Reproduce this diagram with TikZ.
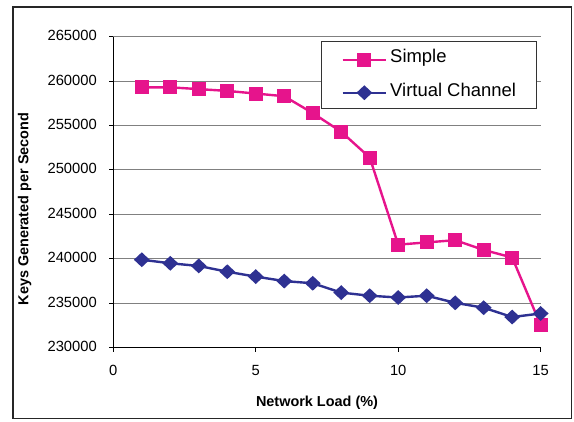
\documentclass[tikz,border=0pt]{standalone}
\usepackage{fontspec}
\setmainfont{Liberation Sans}
\usetikzlibrary{shapes.geometric,calc}
\definecolor{simplepink}{RGB}{230,20,140}
\definecolor{vcblue}{RGB}{46,49,146}
\definecolor{gridgray}{RGB}{128,128,128}

\begin{document}
\begin{tikzpicture}[x=1bp,y=1bp,
  ticklbl/.style={font=\fontsize{14.8}{16}\selectfont, inner sep=0pt},
  axtitle/.style={font=\fontsize{14.5}{16}\selectfont\bfseries, inner sep=0pt},
  legtext/.style={font=\fontsize{18.5}{20}\selectfont, inner sep=0pt},
  sqmark/.style={rectangle, fill=simplepink, draw=none, minimum size=14bp, inner sep=0pt},
  dmmark/.style={diamond, fill=vcblue, draw=none, minimum width=16bp, minimum height=15bp, inner sep=0pt},
  simpleline/.style={draw=simplepink, line width=2.4bp, line join=round},
  vcline/.style={draw=vcblue, line width=2.4bp, line join=round},
  gridline/.style={draw=gridgray, line width=1bp},
  axisline/.style={draw=black, line width=1bp}
]
\useasboundingbox (0,0) rectangle (574,421);
% outer frame of the chart
\draw[line width=1.5bp, draw=black!85] (13,2.5) rectangle (571.5,414);

% plot area: x in load percent, y in thousands above 230000
\begin{scope}[shift={(113.3,73.3)}, x=28.49bp, y=8.886bp]
  \foreach \v in {5,10,...,35}
    \draw[gridline] (0,\v) -- (15,\v);
  \draw[axisline] (0,35) -- (0,0) -- (15,0);
  \foreach \v/\t in {0/230000,5/235000,10/240000,15/245000,20/250000,25/255000,30/260000,35/265000} {
    \draw[axisline] (0,\v) -- ++(-4bp,0);
    \node[ticklbl, anchor=base east] (ylab\v) at ([xshift=-16.3bp, yshift=-4bp]0,\v) {\t};
  }
  \foreach \x in {0,5,10,15} {
    \draw[axisline] (\x,0) -- ++(0,-4bp);
    \node[ticklbl, anchor=base] (xlab\x) at ([yshift=-27.3bp]\x,0) {\x};
  }

  % Simple series
  \foreach \i/\v in {1/29.3,2/29.3,3/29.1,4/28.9,5/28.6,6/28.3,7/26.4,8/24.3,9/21.4,10/11.6,11/11.85,12/12.1,13/11.0,14/10.15,15/2.55}
    \coordinate (s\i) at (\i,\v);
  \draw[simpleline] (s1) \foreach \i in {2,...,15} { -- (s\i) };
  \foreach \i in {1,...,15}
    \node[sqmark] (sm\i) at (s\i) {};

  % Virtual Channel series
  \foreach \i/\v in {1/9.9,2/9.5,3/9.2,4/8.55,5/8.0,6/7.5,7/7.25,8/6.2,9/5.85,10/5.65,11/5.85,12/5.05,13/4.5,14/3.45,15/3.85}
    \coordinate (v\i) at (\i,\v);
  \draw[vcline] (v1) \foreach \i in {2,...,15} { -- (v\i) };
  \foreach \i in {1,...,15}
    \node[dmmark] (vm\i) at (v\i) {};
\end{scope}

% axis titles
\node[axtitle, anchor=base] (xtitle) at (317,15) {Network Load (\%)};
\node[axtitle, anchor=base, rotate=90] (ytitle) at (28.3,212) {Keys Generated per Second};

% legend
\node[draw=black!80, line width=0.8bp, fill=white, minimum width=215bp, minimum height=66.6bp, inner sep=0pt] (legend) at (428.5,346) {};
\coordinate (la1) at (342.7,361);
\coordinate (lb1) at (386,361);
\coordinate (la2) at (342.7,328.3);
\coordinate (lb2) at (386,328.3);
\draw[simpleline] (la1) -- (lb1);
\node[sqmark] (lsm) at ($(la1)!0.5!(lb1)$) {};
\draw[vcline] (la2) -- (lb2);
\node[dmmark] (lvm) at ($(la2)!0.5!(lb2)$) {};
\node[legtext, anchor=base west] (ltext1) at (390,358.3) {Simple};
\node[legtext, anchor=base west] (ltext2) at (390,325) {Virtual Channel};
\end{tikzpicture}
\end{document}
